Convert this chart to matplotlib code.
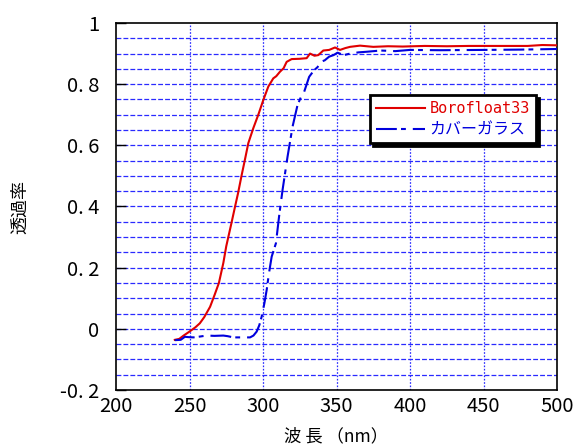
import numpy as np
import matplotlib
matplotlib.use('Agg')
import matplotlib.pyplot as plt

plt.rcParams['font.family'] = ['Noto Sans CJK JP', 'DejaVu Sans']
plt.rcParams['lines.scale_dashes'] = False

# Borofloat33
wl_boro = [240, 243, 246, 250, 254, 257, 260, 264, 267, 270, 273, 275, 278.5, 281, 283, 285.5, 288,
           290, 293.4, 296.8, 300.2, 303.6, 307, 309, 311.6, 314, 316.1, 319.5, 325, 329.7, 332, 335,
           337.6, 341, 345, 349, 352.4, 356, 359.2, 366, 375, 385, 395, 410, 425, 440, 460, 480, 490, 500]
t_boro = [-0.036, -0.033, -0.022, -0.009, 0.005, 0.018, 0.038, 0.072, 0.11, 0.15, 0.215, 0.27, 0.345, 0.40,
          0.443, 0.503, 0.56, 0.607, 0.656, 0.70, 0.748, 0.792, 0.819, 0.826, 0.841, 0.852, 0.873, 0.882,
          0.883, 0.885, 0.90, 0.893, 0.895, 0.91, 0.912, 0.92, 0.912, 0.918, 0.922, 0.926, 0.922, 0.924,
          0.923, 0.925, 0.924, 0.925, 0.925, 0.925, 0.928, 0.927]

# カバーガラス
wl_cover = [240, 244, 246.9, 249, 252.6, 256, 261.6, 267, 273, 276, 279.8, 285, 291.2, 293.5, 295.7,
            297.5, 299.1, 301, 302.5, 304, 305.9, 308.8, 311, 313.3, 316.7, 320.1, 323.5, 326, 328,
            331.4, 334.8, 337, 339.3, 342, 345, 348, 350.7, 355, 359.2, 365, 370.6, 380, 390, 400,
            420, 450, 475, 500]
t_cover = [-0.037, -0.036, -0.026, -0.027, -0.028, -0.026, -0.022, -0.023, -0.022, -0.024, -0.028,
           -0.028, -0.028, -0.022, -0.009, 0.012, 0.04, 0.085, 0.127, 0.18, 0.236, 0.28, 0.37, 0.454,
           0.563, 0.661, 0.732, 0.76, 0.775, 0.824, 0.846, 0.855, 0.873, 0.878, 0.89, 0.895, 0.903,
           0.895, 0.90, 0.904, 0.906, 0.91, 0.908, 0.912, 0.911, 0.912, 0.913, 0.915]

x_ticks = [200, 250, 300, 350, 400, 450, 500]
y_ticks = [-0.2, 0, 0.2, 0.4, 0.6, 0.8, 1]
y_tick_labels = ['-0. 2', '0', '0. 2', '0. 4', '0. 6', '0. 8', '1']

red = '#e00000'
blue = '#0000dd'

fig = plt.figure(figsize=(5.82, 4.47), dpi=100)
ax = fig.add_axes([116/582, 57/447, 441/582, 367/447])

# grid
for y in np.arange(-0.15, 1.0, 0.05):
    ax.axhline(y, color='#2a2aff', lw=0.9, ls=(0, (3.5, 1.5)), zorder=1)
for x in x_ticks[1:-1]:
    ax.axvline(x, color='#2a2aff', lw=0.9, ls=(0, (1.2, 1.2)), zorder=1)

ax.plot(wl_boro, t_boro, color=red, lw=1.5, label='Borofloat33', zorder=3)
ax.plot(wl_cover, t_cover, color=blue, lw=1.5, ls=(0, (15, 3, 3.5, 5)), label='カバーガラス', zorder=3)

ax.set_xlim(200, 500)
ax.set_ylim(-0.2, 1)
ax.set_xticks(x_ticks)
ax.set_yticks(y_ticks)
ax.set_yticklabels(y_tick_labels)
ax.tick_params(axis='both', direction='in', length=7, width=1, labelsize=14.5, color='black')
ax.tick_params(axis='x', length=0, pad=4)
ax.tick_params(axis='y', pad=12)
for s in ax.spines.values():
    s.set_linewidth(1.2)

ax.set_xlabel('波 長 （nm）', fontsize=12.5, labelpad=8)
ax.set_ylabel('透過率', fontsize=13, labelpad=22)

leg = ax.legend(loc='upper left', bbox_to_anchor=((370 - 116) / 441, (390 - 95) / 367),
                borderaxespad=0, fancybox=False, edgecolor='black', framealpha=1,
                shadow={'color': 'black', 'alpha': 1}, handlelength=3.2, handletextpad=0.3,
                borderpad=0.4, labelspacing=0.4,
                prop={'family': ['DejaVu Sans Mono', 'Noto Sans CJK JP'], 'size': 11})
leg.get_frame().set_linewidth(2)
leg.texts[0].set_color(red)
leg.texts[1].set_color(blue)
leg.texts[1].set_fontsize(11.5)
leg.set_zorder(5)

fig.savefig('out.png', dpi=100)
